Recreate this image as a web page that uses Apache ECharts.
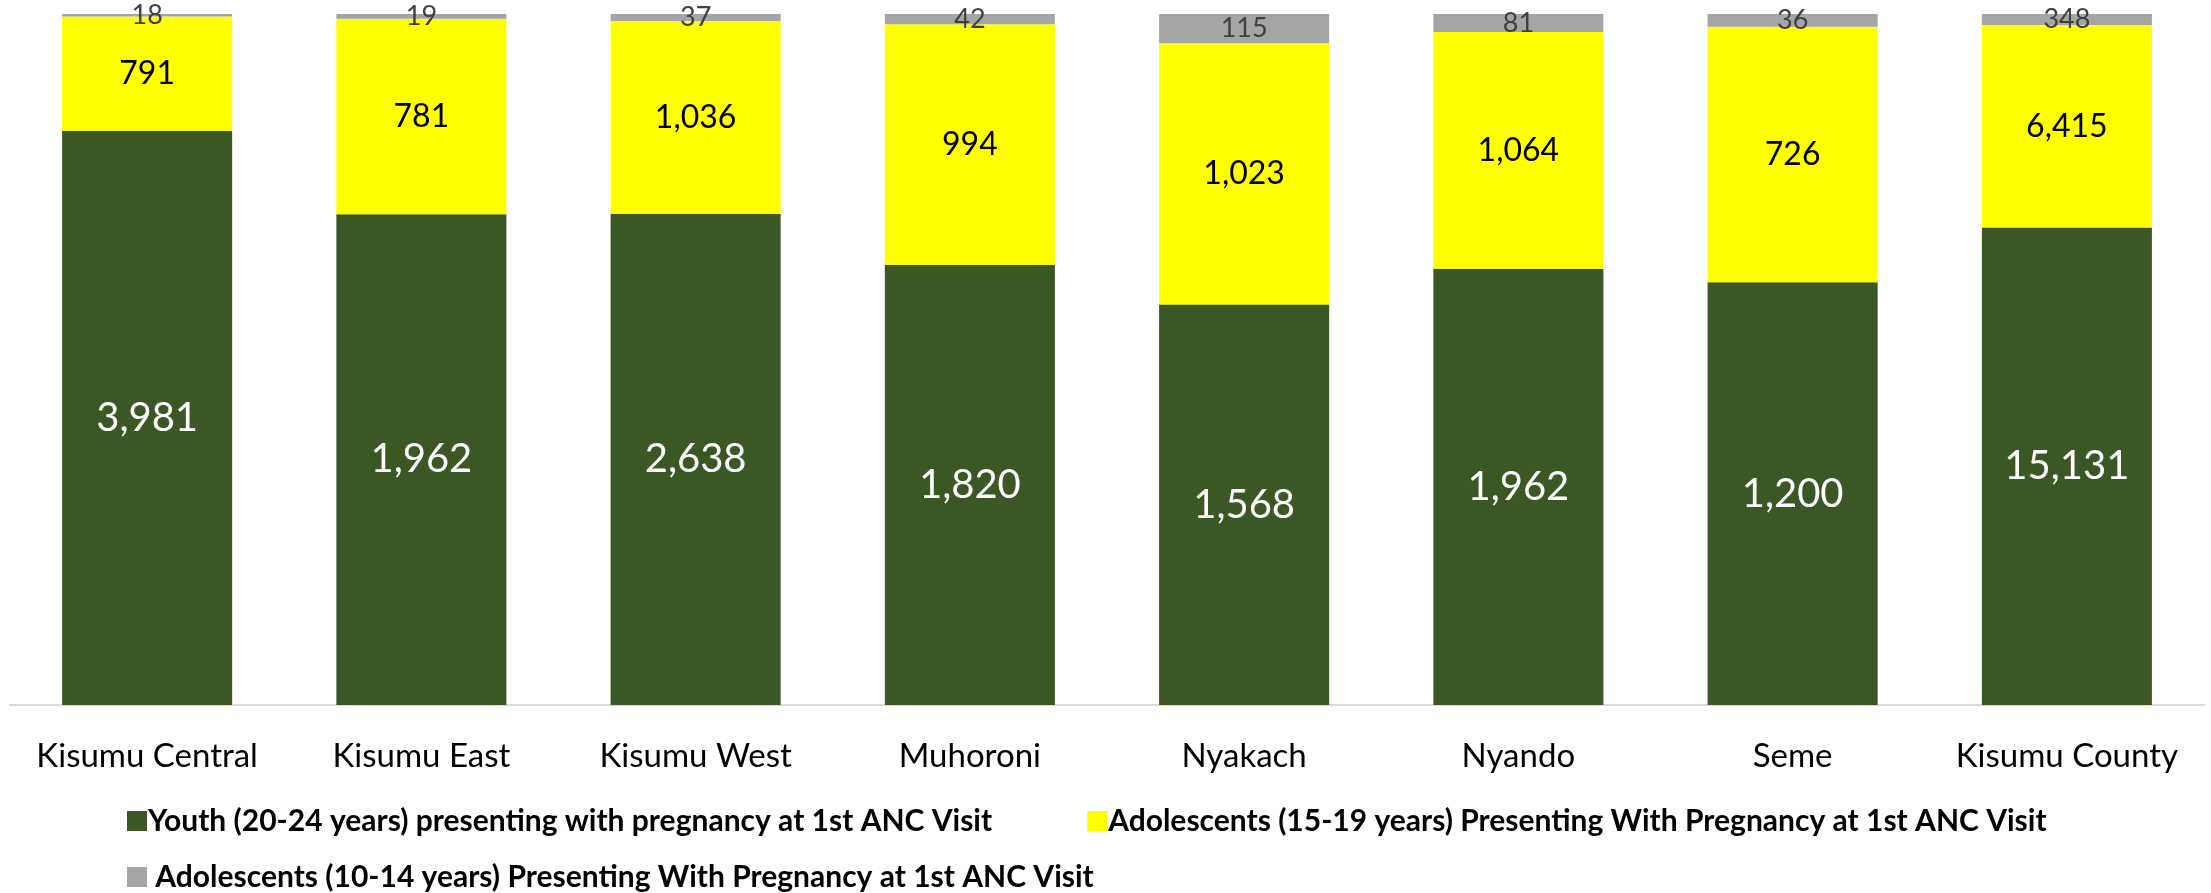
<!DOCTYPE html>
<html>
<head>
<meta charset="utf-8">
<script src="https://cdn.jsdelivr.net/npm/echarts@6/dist/echarts.min.js"></script>
<style>
  html, body { margin: 0; padding: 0; background: #fff; }
  #chart { width: 2211px; height: 893px; }
</style>
</head>
<body>
<div id="chart"></div>
<script>
const categories = ['Kisumu Central', 'Kisumu East', 'Kisumu West', 'Muhoroni', 'Nyakach', 'Nyando', 'Seme', 'Kisumu County']
const youth = [3981, 1962, 2638, 1820, 1568, 1962, 1200, 15131]
const adol1519 = [791, 781, 1036, 994, 1023, 1064, 726, 6415]
const adol1014 = [18, 19, 37, 42, 115, 81, 36, 348]

const names = [
  'Youth (20-24 years) presenting with pregnancy at 1st ANC Visit',
  'Adolescents (15-19 years) Presenting With Pregnancy at 1st ANC Visit',
  ' Adolescents (10-14 years) Presenting With Pregnancy at 1st ANC Visit'
]
const font = 'Lato'

// 100% stacked: bar height is share of column total, label shows the count
const totals = categories.map((c, i) => youth[i] + adol1519[i] + adol1014[i])
const share = (arr) => arr.map((v, i) => ({ value: v / totals[i] * 100, raw: v }))
const fmt = (p) => p.data.raw.toLocaleString('en-US')

function makeSeries (name, arr, color, labelColor, size) {
  return {
    name: name,
    type: 'bar',
    stack: 'all',
    barCategoryGap: '38%',
    itemStyle: { color: color },
    label: {
      show: true,
      position: 'inside',
      formatter: fmt,
      color: labelColor,
      fontFamily: font,
      fontSize: size
    },
    data: share(arr)
  }
}

const legendText = { fontFamily: font, fontWeight: 'bold', fontSize: 30, color: '#000', padding: [0, 0, 0, -4] }

const chart = echarts.init(document.getElementById('chart'))
chart.setOption({
  animation: false,
  grid: { left: 10, right: 7, top: 14, bottom: 188 },
  legend: [{
    data: [names[0], names[1]],
    left: 122,
    top: 801,
    itemWidth: 20,
    itemHeight: 20,
    itemGap: 95,
    icon: 'rect',
    textStyle: legendText
  }, {
    data: [names[2]],
    left: 122,
    top: 857,
    itemWidth: 20,
    itemHeight: 20,
    icon: 'rect',
    textStyle: legendText
  }],
  xAxis: {
    type: 'category',
    data: categories,
    axisLine: { lineStyle: { color: '#d9d9d9', width: 2 } },
    axisTick: { show: false },
    axisLabel: { interval: 0, fontFamily: font, fontSize: 33, color: '#000', margin: 35 }
  },
  yAxis: {
    type: 'value',
    min: 0,
    max: 100,
    show: false
  },
  series: [
    makeSeries(names[0], youth, '#3a5724', '#fff', 40),
    makeSeries(names[1], adol1519, '#ffff00', '#000', 32),
    makeSeries(names[2], adol1014, '#a5a5a5', '#404040', 27)
  ]
})
</script>
</body>
</html>
